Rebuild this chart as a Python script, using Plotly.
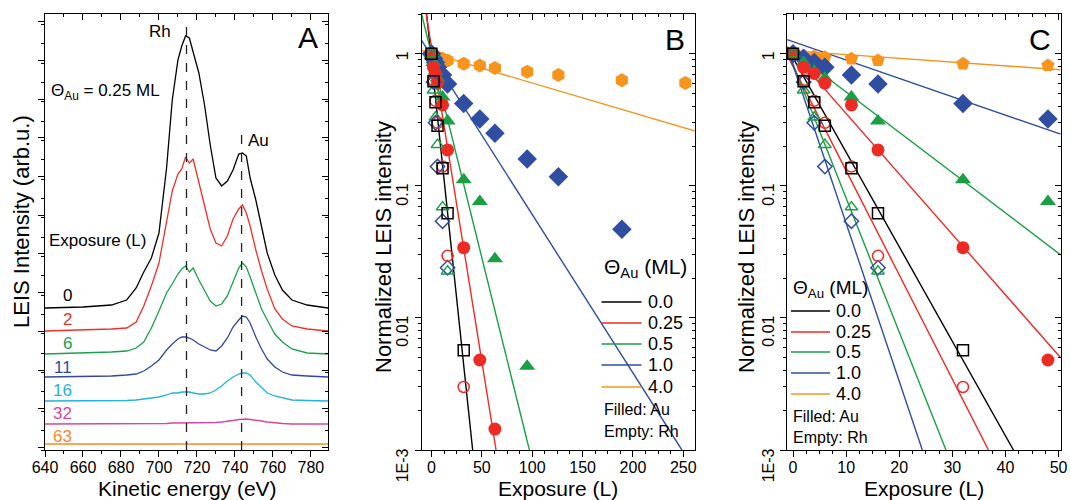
import plotly.graph_objects as go

FONT = "Liberation Sans, Arial, sans-serif"
W, H = 1070, 500

# ---------------- Panel A: LEIS spectra (0.25 ML Au) vs exposure ----------------
energy_ev = [640, 660, 675, 683, 688, 692, 696, 700, 704, 707, 710, 712, 714, 716, 718,
             721, 724, 727, 730, 733, 736, 739, 742, 744, 746, 748, 751, 754, 757, 761,
             765, 770, 778, 789]
spec_0 = [0, 1, 3, 8, 20, 36, 50, 75, 140, 208, 248, 262, 272, 270, 256,
          235, 203, 163, 130, 122, 127, 138, 154, 155, 152, 130, 108, 80, 55, 33,
          18, 8, 3, 0]
spec_2 = [0, 1, 2, 3, 9, 25, 45, 68, 110, 140, 157, 162, 174, 168, 172,
          148, 124, 102, 88, 85, 95, 112, 122, 126, 118, 105, 81, 60, 42, 22,
          12, 5, 2, 0]
spec_6 = [0, 1, 2, 3, 6, 12, 26, 43, 61, 70, 80, 85, 88, 82, 86,
          74, 63, 53, 48, 50, 58, 72, 86, 91, 87, 77, 60, 45, 34, 20,
          12, 5, 1, 0]
spec_11 = [0, 0.5, 1, 2, 3, 6, 11, 17, 27, 33, 38, 40, 40, 39, 37,
           33, 30, 27, 26, 31, 39, 50, 57, 61, 60, 54, 40, 28, 18, 10,
           5, 2, 1, 0]
spec_16 = [0, 0, 0, 0.5, 1, 2, 3, 4, 6, 8, 8, 9, 9, 9, 8,
           7, 7, 8, 11, 15, 20, 24, 27, 28, 28, 26, 19, 13, 8, 5,
           3, 1, 0.5, 0]
spec_32 = [0, 0, 0, 0, 0, 0, 0, 0.5, 0.5, 1, 1, 1, 1, 1, 1,
           1, 1, 1, 1.5, 2, 2.5, 3.5, 4.5, 5, 5, 4.5, 4, 3, 2, 1,
           0.5, 0, 0, 0]
spec_63 = [0, 0, 0, 0, 0, 0, 0, 0, 0, 0, 0, 0, 0, 0, 0,
           0, 0, 0, 0, 0, 0, 0, 0.3, 0.5, 0.5, 0.3, 0, 0, 0, 0,
           0, 0, 0, 0]
spectra = [spec_0, spec_2, spec_6, spec_11, spec_16, spec_32, spec_63]
spectrum_labels = ["0", "2", "6", "11", "16", "32", "63"]
spectrum_offsets = [142, 119, 96, 73, 49, 26, 6]
spectrum_colors = ["#000000", "#f0302a", "#1ca04a", "#34479c", "#21b3db", "#d6479d", "#f68b1f"]

peak_energy = [714.5, 743.5]
peak_names = ["Rh", "Au"]
peak_line_top = [430, 320]

# ---------------- Panels B, C: normalized LEIS intensity vs exposure ----------------
exposure = [0, 2, 4, 6, 11, 16, 32, 48, 63, 95, 126, 189, 252]
au_theta_025 = [1.0, 0.79, 0.71, 0.60, 0.41, 0.187, 0.034, 0.0048, 0.00144, None, None, None, None]
au_theta_05 = [1.0, 0.86, 0.74, 0.655, 0.47, 0.31, 0.111, 0.076, 0.028, 0.0043, None, None, None]
au_theta_10 = [1.0, 0.92, 0.86, 0.79, 0.69, 0.59, 0.42, 0.32, 0.25, 0.16, 0.117, 0.047, None]
au_theta_40 = [1.0, 0.97, 0.955, 0.94, 0.917, 0.89, 0.84, 0.816, 0.78, 0.73, 0.69, 0.63, 0.60]

rh_exposure = [0, 2, 4, 6, 11, 16, 32]
rh_theta_00 = [1.0, 0.62, 0.43, 0.285, 0.136, 0.062, 0.0057]
rh_theta_025 = [1.0, 0.63, 0.44, 0.30, 0.14, 0.0295, 0.003]
rh_theta_05 = [1.0, 0.53, 0.33, 0.205, 0.069, 0.0226, None]
rh_theta_10 = [1.0, 0.61, 0.30, 0.14, 0.054, 0.024, None]

# exponential fits (straight on the log axis): start / end exposure and intensity
fit_b_x = {"0.0": [-10, 40.9], "0.25": [-10, 64.1], "0.5": [-10, 97.2],
           "1.0": [-10, 248.6], "4.0": [-10, 262]}
fit_b_y = {"0.0": [4.7, 0.001], "0.25": [3.35, 0.001], "0.5": [2.02, 0.001],
           "1.0": [1.27, 0.001], "4.0": [1.06, 0.26]}
fit_c_rh_x = {"0.0": [-1.1, 41.5], "0.25": [-1.1, 36.8], "0.5": [-1.1, 28.8], "1.0": [-1.1, 24.35]}
fit_c_rh_y = {"0.0": [1.12, 0.001], "0.25": [0.98, 0.001], "0.5": [1.08, 0.001], "1.0": [1.11, 0.001]}
fit_c_au_x = {"0.25": [-1.1, 50.4], "0.5": [-1.1, 50.4], "1.0": [-1.1, 50.4], "4.0": [-1.1, 50.4]}
fit_c_au_y = {"0.25": [1.135, 0.005], "0.5": [1.12, 0.030], "1.0": [1.28, 0.246], "4.0": [1.06, 0.757]}

theta_labels = ["0.0", "0.25", "0.5", "1.0", "4.0"]
theta_colors = {"0.0": "#000000", "0.25": "#ee2a24", "0.5": "#1a9f45", "1.0": "#2f4ea1", "4.0": "#f7941d"}

au_series = {"0.25": au_theta_025, "0.5": au_theta_05, "1.0": au_theta_10, "4.0": au_theta_40}
rh_series = {"0.0": rh_theta_00, "0.25": rh_theta_025, "0.5": rh_theta_05, "1.0": rh_theta_10}
rh_symbols = {"0.0": "square-open", "0.25": "circle-open", "0.5": "triangle-up-open", "1.0": "diamond-open"}
au_symbols_b = {"0.25": "circle", "0.5": "triangle-up", "1.0": "diamond", "4.0": "hexagon"}
au_symbols_c = {"0.25": "circle", "0.5": "triangle-up", "1.0": "diamond", "4.0": "pentagon"}
au_sizes = {"circle": 13, "triangle-up": 14, "diamond": 15, "hexagon": 14, "pentagon": 14}


def px(x):
    return x / W


def py(y):
    return 1 - y / H


fig = go.Figure()

# ---- Panel A traces ----
for vals, off, col in zip(spectra, spectrum_offsets, spectrum_colors):
    fig.add_trace(go.Scatter(x=energy_ev, y=[off + v for v in vals], mode="lines",
                             line=dict(color=col, width=1.3), xaxis="x", yaxis="y",
                             showlegend=False, hoverinfo="skip"))
for e, top in zip(peak_energy, peak_line_top):
    fig.add_trace(go.Scatter(x=[e, e], y=[0, top], mode="lines",
                             line=dict(color="#222222", width=1.3, dash="dash"),
                             xaxis="x", yaxis="y", showlegend=False, hoverinfo="skip"))

# ---- Panel B fit lines ----
for t in theta_labels:
    fig.add_trace(go.Scatter(x=fit_b_x[t], y=fit_b_y[t], mode="lines",
                             line=dict(color=theta_colors[t], width=1.4),
                             xaxis="x2", yaxis="y2", showlegend=False, hoverinfo="skip"))
# ---- Panel C fit lines ----
for t, xs in fit_c_rh_x.items():
    fig.add_trace(go.Scatter(x=xs, y=fit_c_rh_y[t], mode="lines",
                             line=dict(color=theta_colors[t], width=1.4),
                             xaxis="x3", yaxis="y3", showlegend=False, hoverinfo="skip"))
for t, xs in fit_c_au_x.items():
    fig.add_trace(go.Scatter(x=xs, y=fit_c_au_y[t], mode="lines",
                             line=dict(color=theta_colors[t], width=1.4),
                             xaxis="x3", yaxis="y3", showlegend=False, hoverinfo="skip"))

# data points (same measurements in B and C)
for xa, ya, syms in (("x2", "y2", au_symbols_b), ("x3", "y3", au_symbols_c)):
    for t in ["4.0", "1.0", "0.5", "0.25"]:
        s = syms[t]
        fig.add_trace(go.Scatter(x=exposure, y=au_series[t], mode="markers",
                                 marker=dict(symbol=s, size=au_sizes[s], color=theta_colors[t],
                                             line=dict(width=0)),
                                 xaxis=xa, yaxis=ya, showlegend=False, hoverinfo="skip",
                                 cliponaxis=True))
    for t in ["1.0", "0.5", "0.25", "0.0"]:
        fig.add_trace(go.Scatter(x=rh_exposure, y=rh_series[t], mode="markers",
                                 marker=dict(symbol=rh_symbols[t], size=11, color=theta_colors[t],
                                             line=dict(width=1.5, color=theta_colors[t])),
                                 xaxis=xa, yaxis=ya, showlegend=False, hoverinfo="skip",
                                 cliponaxis=True))

# empty traces so the mirrored top/right axes get drawn
for n in (4, 5, 6):
    fig.add_trace(go.Scatter(x=[None], y=[None], xaxis="x%d" % n, yaxis="y%d" % n,
                             showlegend=False, hoverinfo="skip"))

# ---------------- axes ----------------
ydom = [py(450), py(14)]
dom_a = [px(45), px(328)]
dom_b = [px(421.7), px(695)]
dom_c = [px(787), px(1060.7)]

tickfont = dict(family=FONT, size=16, color="black")


def ax(**kw):
    base = dict(showline=True, linecolor="black", linewidth=1.2, showgrid=False,
                zeroline=False, ticks="outside", ticklen=6, tickwidth=1.2,
                tickcolor="black", tickfont=tickfont, fixedrange=True, automargin=False)
    base.update(kw)
    return base


def minor(direction, **kw):
    m = dict(ticks=direction, ticklen=3, tickwidth=1, tickcolor="black", showgrid=False)
    m.update(kw)
    return m


log_minor = [m * 10 ** e for e in (-3, -2, -1, 0) for m in range(2, 10)]
log_range = [-3, 0.301]
log_vals = [0.001, 0.01, 0.1, 1]
nb = "\u00a0"
log_text = ["1E-3" + nb * 8, "0.01" + nb * 7, "0.1" + nb * 5, "1" + nb * 2]

a_xr = [640, 789]
a_yr = [0, 436]
b_xr = [-9.7, 261.6]
c_xr = [-1.13, 50.4]

fig.update_layout(
    width=W, height=H, margin=dict(l=0, r=0, t=0, b=0, autoexpand=False),
    paper_bgcolor="white", plot_bgcolor="white",
    font=dict(family=FONT, color="black"),
    xaxis=ax(domain=dom_a, anchor="y", range=a_xr, tick0=640, dtick=20, ticklabelstandoff=-3,
             minor=minor("outside", dtick=10)),
    yaxis=ax(domain=ydom, anchor="x", range=a_yr, tick0=2.6, dtick=38.7,
             showticklabels=False, minor=minor("outside", dtick=19.35)),
    xaxis4=ax(overlaying="x", side="top", anchor="y4", range=a_xr, tick0=640, dtick=20,
              ticks="inside", showticklabels=False, minor=minor("inside", dtick=10)),
    yaxis4=ax(overlaying="y", side="right", anchor="x4", range=a_yr, tick0=2.6, dtick=38.7,
              ticks="inside", showticklabels=False, minor=minor("inside", dtick=19.35)),

    xaxis2=ax(domain=dom_b, anchor="y2", range=b_xr, tick0=0, dtick=50, ticklabelstandoff=-3,
              minor=minor("outside", dtick=12.5)),
    yaxis2=ax(domain=ydom, anchor="x2", type="log", range=log_range, tickvals=log_vals,
              ticktext=log_text, tickangle=-90, minor=minor("outside", tickvals=log_minor)),
    xaxis5=ax(overlaying="x2", side="top", anchor="y5", range=b_xr, tick0=0, dtick=50,
              ticks="inside", showticklabels=False, minor=minor("inside", dtick=12.5)),
    yaxis5=ax(overlaying="y2", side="right", anchor="x5", type="log", range=log_range,
              tickvals=log_vals, ticks="inside", showticklabels=False,
              minor=minor("inside", tickvals=log_minor)),

    xaxis3=ax(domain=dom_c, anchor="y3", range=c_xr, tick0=0, dtick=10, ticklabelstandoff=-3,
              minor=minor("outside", dtick=2.5)),
    yaxis3=ax(domain=ydom, anchor="x3", type="log", range=log_range, tickvals=log_vals,
              ticktext=log_text, tickangle=-90, minor=minor("outside", tickvals=log_minor)),
    xaxis6=ax(overlaying="x3", side="top", anchor="y6", range=c_xr, tick0=0, dtick=10,
              ticks="inside", showticklabels=False, minor=minor("inside", dtick=2.5)),
    yaxis6=ax(overlaying="y3", side="right", anchor="x6", type="log", range=log_range,
              tickvals=log_vals, ticks="inside", showticklabels=False,
              minor=minor("inside", tickvals=log_minor)),
)

# ---------------- text ----------------
ann = []


def text(x, y, s, size=17, xanchor="center", yanchor="middle", angle=0, color="black"):
    ann.append(dict(x=px(x), y=py(y), xref="paper", yref="paper", text=s, showarrow=False,
                    xanchor=xanchor, yanchor=yanchor, textangle=angle,
                    font=dict(family=FONT, size=size, color=color)))


# axis titles
text(22, 222, "LEIS Intensity (arb.u.)", size=22, angle=-90)
text(187, 488, "Kinetic energy (eV)", size=21)
text(383, 247, "Normalized LEIS intensity", size=22, angle=-90)
text(558, 488, "Exposure (L)", size=21)
text(746, 247, "Normalized LEIS intensity", size=22, angle=-90)
text(924, 488, "Exposure (L)", size=21)

# panel letters
text(308, 38, "A", size=30)
text(675, 40, "B", size=30)
text(1040, 40, "C", size=30)

# panel A labels
text(160, 31, peak_names[0], size=17)
text(258, 140, peak_names[1], size=17)
text(49, 92, "\u0398<sub>Au</sub> = 0.25 ML", size=17, xanchor="left")
text(47, 240, "Exposure (L)", size=17, xanchor="left")
label_rows = [295, 319, 343, 367, 390, 413, 436]
for lab, yy, col in zip(spectrum_labels, label_rows, spectrum_colors):
    text(74, yy, lab, size=17, xanchor="right", color=col)

# legends for B and C
shapes = []


def legend(x0, title_y, rows, foot, line_len, title_size, size):
    text(x0, title_y, "\u0398<sub>Au</sub> (ML)", size=title_size, xanchor="left")
    for t, yy in zip(theta_labels, rows):
        shapes.append(dict(type="line", xref="paper", yref="paper",
                           x0=px(x0), x1=px(x0 + line_len), y0=py(yy), y1=py(yy),
                           line=dict(color=theta_colors[t], width=1.5)))
        text(x0 + line_len + 4, yy, t, size=size, xanchor="left")
    text(x0, foot[0], "Filled: Au", size=size - 2, xanchor="left")
    text(x0, foot[1], "Empty: Rh", size=size - 2, xanchor="left")


legend(601.5, 268, [302, 323, 344, 365, 387], [409, 431], 40, 21, 18)
legend(791, 289, [311, 332, 352, 373, 394], [416, 437], 39, 19, 18)

fig.update_layout(annotations=ann, shapes=shapes)

fig.write_html("out.html")
